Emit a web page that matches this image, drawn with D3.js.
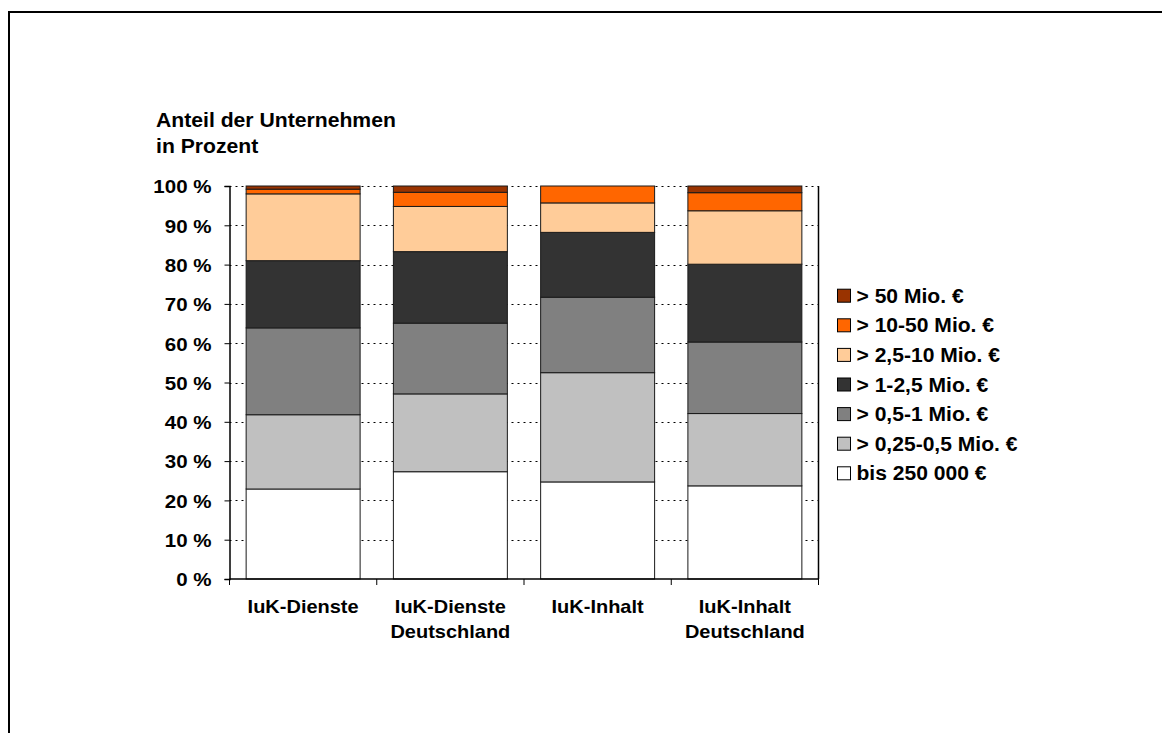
<!DOCTYPE html>
<html>
<head>
<meta charset="utf-8">
<script src="https://cdn.jsdelivr.net/npm/d3@7"></script>
<style>
  html, body { margin: 0; padding: 0; background: #fff; }
  svg text { font-family: "Liberation Sans", Arial, sans-serif; font-weight: bold; fill: #000; }
</style>
</head>
<body>
<svg id="chart" width="1162" height="733"></svg>
<script>
// Company size classes by turnover, share of companies in percent
const categories = [["IuK-Dienste"], ["IuK-Dienste", "Deutschland"], ["IuK-Inhalt"], ["IuK-Inhalt", "Deutschland"]];
const seriesNames = ["bis 250 000 €", "> 0,25-0,5 Mio. €", "> 0,5-1 Mio. €", "> 1-2,5 Mio. €", "> 2,5-10 Mio. €", "> 10-50 Mio. €", "> 50 Mio. €"];
const bis250 = [22.9, 27.3, 24.7, 23.7];
const mio025_05 = [18.9, 19.8, 27.8, 18.4];
const mio05_1 = [22.1, 18.0, 19.2, 18.2];
const mio1_25 = [17.1, 18.2, 16.5, 19.8];
const mio25_10 = [17.0, 11.5, 7.5, 13.6];
const mio10_50 = [1.2, 3.6, 4.3, 4.6];
const mio50 = [0.8, 1.6, 0.0, 1.7];
const seriesValues = [bis250, mio025_05, mio05_1, mio1_25, mio25_10, mio10_50, mio50];
const seriesColors = ["#FFFFFF", "#C0C0C0", "#808080", "#333333", "#FFCC99", "#FF6600", "#993300"];
const yTicks = [0, 10, 20, 30, 40, 50, 60, 70, 80, 90, 100];
const titleLines = ["Anteil der Unternehmen", "in Prozent"];

const svg = d3.select("#chart");
const stretch = 1.08; // horizontal text widening

function widen(sel) {
  sel.each(function () {
    const len = this.getComputedTextLength();
    if (len > 0) {
      d3.select(this).attr("textLength", len * stretch).attr("lengthAdjust", "spacingAndGlyphs");
    }
  });
}

// outer frame
svg.append("rect")
  .attr("x", 9).attr("y", 12).attr("width", 1300).attr("height", 900)
  .attr("fill", "none").attr("stroke", "#000").attr("stroke-width", 2);

const plotLeft = 229.5, plotRight = 818.5, plotTop = 186, plotBottom = 579;

const x = d3.scaleBand()
  .domain(d3.range(categories.length))
  .range([plotLeft, plotRight])
  .paddingInner(0.226)
  .paddingOuter(0.113);

const y = d3.scaleLinear().domain([0, 100]).range([plotBottom, plotTop]);

// grid lines
svg.append("g")
  .selectAll("line")
  .data(yTicks.filter(d => d > 0))
  .join("line")
  .attr("x1", plotLeft).attr("x2", plotRight)
  .attr("y1", d => Math.round(y(d)) + 0.5).attr("y2", d => Math.round(y(d)) + 0.5)
  .attr("stroke", "#000").attr("stroke-width", 1)
  .attr("stroke-dasharray", "2,4");

// stacked bars
const stackData = categories.map((c, i) => {
  const o = { idx: i };
  seriesNames.forEach((s, k) => { o[s] = seriesValues[k][i]; });
  return o;
});
const stacked = d3.stack().keys(seriesNames)(stackData);

svg.append("g")
  .selectAll("g")
  .data(stacked)
  .join("g")
  .attr("fill", (d, k) => seriesColors[k])
  .selectAll("rect")
  .data(d => d.filter(p => p[1] - p[0] > 0))
  .join("rect")
  .attr("x", p => x(p.data.idx))
  .attr("width", x.bandwidth())
  .attr("y", p => y(p[1]))
  .attr("height", p => y(p[0]) - y(p[1]))
  .attr("stroke", "#1a1a1a")
  .attr("stroke-width", 1);

// right border of plot area
svg.append("line")
  .attr("x1", plotRight).attr("x2", plotRight).attr("y1", plotTop).attr("y2", plotBottom)
  .attr("stroke", "#000").attr("stroke-width", 1.5);

// y axis
const yAxis = svg.append("g")
  .attr("transform", `translate(${plotLeft},0)`)
  .call(d3.axisLeft(y).tickValues(yTicks).tickSize(5).tickPadding(13).tickFormat(d => d + " %"));
yAxis.select(".domain").attr("stroke", "#000").attr("stroke-width", 1.5);
yAxis.selectAll(".tick line").attr("stroke", "#000");
yAxis.selectAll(".tick text")
  .attr("font-size", 19).attr("dy", "0.36em")
  .attr("font-family", "Liberation Sans, Arial, sans-serif").attr("font-weight", "bold")
  .call(widen);

// x axis line and boundary ticks
const xAxis = svg.append("g");
xAxis.append("line")
  .attr("x1", plotLeft).attr("x2", plotRight).attr("y1", plotBottom).attr("y2", plotBottom)
  .attr("stroke", "#000").attr("stroke-width", 1.5);
const bounds = d3.range(categories.length + 1).map(i => plotLeft + i * x.step());
xAxis.selectAll("line.tk")
  .data(bounds)
  .join("line")
  .attr("class", "tk")
  .attr("x1", d => d).attr("x2", d => d)
  .attr("y1", plotBottom).attr("y2", plotBottom + 6)
  .attr("stroke", "#000");

// category labels, one text element per line
const catLines = categories.flatMap((lines, i) => lines.map((t, j) => ({ t, i, j })));
svg.append("g")
  .selectAll("text")
  .data(catLines)
  .join("text")
  .attr("text-anchor", "middle")
  .attr("font-size", 18.5)
  .attr("x", d => x(d.i) + x.bandwidth() / 2)
  .attr("y", d => 613 + d.j * 25)
  .text(d => d.t)
  .call(widen);

// title
svg.append("g")
  .selectAll("text")
  .data(titleLines)
  .join("text")
  .attr("x", 156)
  .attr("y", (d, i) => 127 + i * 25.6)
  .attr("font-size", 19.6)
  .text(d => d)
  .call(widen);

// legend, largest class on top
const legend = svg.append("g");
const order = d3.range(seriesNames.length).reverse();
const rows = legend.selectAll("g")
  .data(order)
  .join("g")
  .attr("transform", (k, r) => `translate(837.5,${295.7 + r * 29.6})`);
rows.append("rect")
  .attr("x", 0).attr("y", -6.5).attr("width", 13).attr("height", 13)
  .attr("fill", k => seriesColors[k]).attr("stroke", "#000").attr("stroke-width", 1);
rows.append("text")
  .attr("x", 19).attr("y", 7)
  .attr("font-size", 19.5)
  .text(k => seriesNames[k])
  .call(widen);
</script>
</body>
</html>
